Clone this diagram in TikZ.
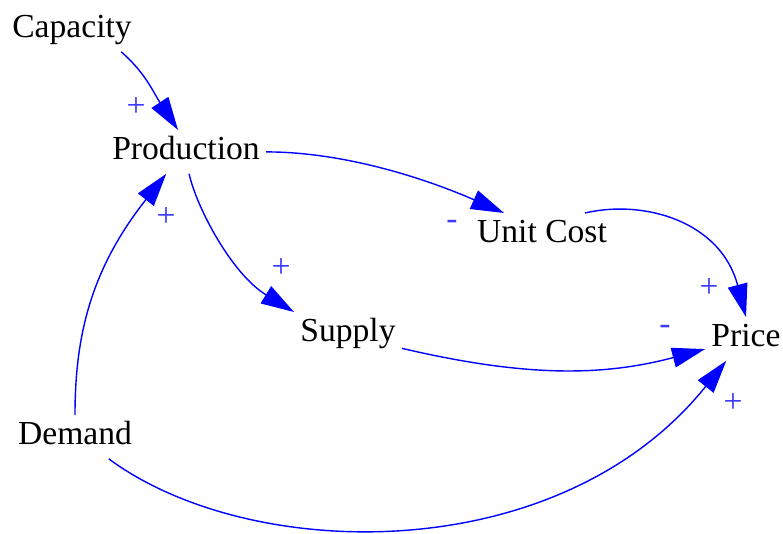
\documentclass[tikz,border=0pt]{standalone}
\usepackage{fontspec}
\setmainfont{Liberation Serif}
\usetikzlibrary{arrows.meta}
\definecolor{arrblue}{RGB}{0,0,255}
\definecolor{signblue}{RGB}{60,60,255}
\begin{document}
\begin{tikzpicture}[x=0.5pt,y=-0.5pt,
  var/.style={font=\rmfamily\fontsize{16.8}{20}\selectfont, inner sep=3pt, text height=11.8pt, text depth=3.7pt, anchor=base},
  sgn/.style={font=\rmfamily\fontsize{16.8}{20}\selectfont, text=signblue, inner sep=0pt},
  arr/.style={draw=arrblue, line width=0.7pt, -{Triangle[length=16.5pt,width=10pt]}}]
\useasboundingbox (0,0) rectangle (783,534);
\node[var] (cap) at (72,38) {Capacity};
\node[var] (prod) at (186,160) {Production};
\node[var] (uc) at (542,243) {Unit Cost};
\node[var] (sup) at (348,342) {Supply};
\node[var] (price) at (746,347) {Price};
\node[var] (dem) at (75,445) {Demand};
\draw[arr] (cap.-24) .. controls +(25,22) and +(-25,-38) .. (prod.110);
\draw[arr] (prod.east) .. controls +(80,0) and +(-75,-33) .. (uc.150);
\draw[arr] (uc.27) .. controls +(60,-14) and +(-25,-95) .. (price.north);
\draw[arr] (prod.-82) .. controls +(8,35) and +(-62,-38) .. (sup.north west);
\draw[arr] (sup.-15) .. controls +(120,28) and +(-105,28) .. (price.-166);
\draw[arr] (dem.north) .. controls +(0,-80) and +(-75,95) .. (prod.-132);
\draw[arr] (dem.-33) .. controls +(142,105) and +(-167,208) .. (price.-132);
\node[sgn] (s1) at (136,107) {+};
\node[sgn] (s2) at (452,225) {-};
\node[sgn] (s3) at (709,288) {+};
\node[sgn] (s4) at (281,268) {+};
\node[sgn] (s5) at (665,330) {-};
\node[sgn] (s6) at (166,217) {+};
\node[sgn] (s7) at (733,403) {+};
\end{tikzpicture}
\end{document}
